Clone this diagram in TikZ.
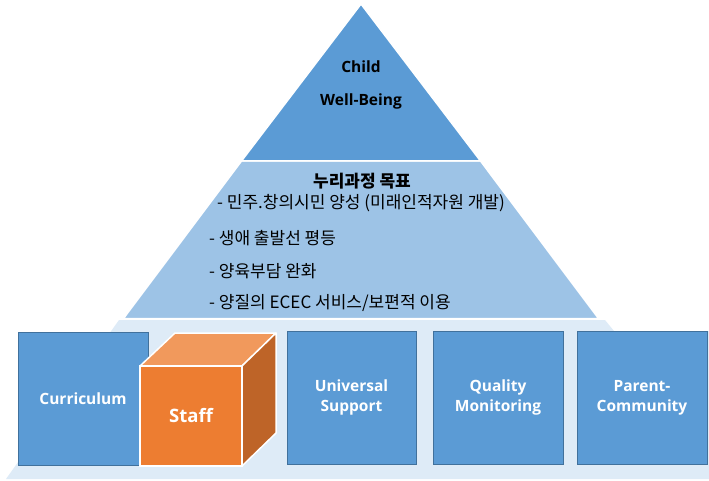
\documentclass[tikz,border=0pt]{standalone}
\usepackage{fontspec}
\setmainfont{Open Sans}
\newfontfamily\kr{Noto Sans CJK KR}
\definecolor{topblue}{HTML}{5B9BD5}
\definecolor{midblue}{HTML}{9DC3E6}
\definecolor{bandblue}{HTML}{DEEBF7}
\definecolor{boxblue}{HTML}{5B9BD5}
\definecolor{boxedge}{HTML}{41719C}
\definecolor{orfront}{HTML}{ED7D31}
\definecolor{ortop}{HTML}{F1995C}
\definecolor{orside}{HTML}{BE6428}
\tikzset{
  pillar/.style={draw=boxedge, line width=0.8pt, fill=boxblue, text=white,
    minimum width=129pt, minimum height=133pt, inner sep=0pt, outer sep=0pt,
    align=center, font=\fontsize{15.5}{20}\selectfont\bfseries},
  layer/.style={draw=white, line width=1.5pt, line join=round},
  cubeface/.style={draw=white, line width=1.5pt, line join=round},
  toptext/.style={font=\fontsize{15.5}{18}\selectfont\bfseries, text=black, inner sep=0pt},
  goal/.style={font=\kr\fontsize{17}{20}\selectfont, text=black, inner sep=0pt, anchor=west}
}
\begin{document}
\begin{tikzpicture}[x=1pt,y=-1pt]
\useasboundingbox (0,0) rectangle (709,481);
% bottom band
\fill[bandblue] (119,320) -- (605,320) -- (614,331) -- (709,331) -- (709,479) -- (6,479) -- cycle;
% middle layer
\filldraw[layer, fill=midblue] (241.5,161) -- (480.5,161) -- (598.5,318.5) -- (123.5,318.5) -- cycle;
% top triangle
\filldraw[layer, fill=topblue] (361,4) -- (480.5,161) -- (241.5,161) -- cycle;
\node[toptext] (child) at (361,67) {Child};
\node[toptext] (wb) at (361,101) {Well-Being};
% goals
\node[font=\kr\fontsize{17}{20}\selectfont\bfseries, inner sep=0pt] (gtitle) at (362,181) {누리과정 목표};
\node[goal] (g1) at (217,203) {- 민주.창의시민 양성 (미래인적자원 개발)};
\node[goal] (g2) at (209,238) {- 생애 출발선 평등};
\node[goal] (g3) at (209,271) {- 양육부담 완화};
\node[goal] (g4) at (209,303) {- 양질의 ECEC 서비스/보편적 이용};
% pillars
\node[pillar, minimum width=130pt] (curr) at (83,398.5) {Curriculum};
\node[pillar] (univ) at (351.5,397.5) {Universal\\Support};
\node[pillar, minimum width=130pt] (qual) at (498,397.5) {Quality\\Monitoring};
\node[pillar, minimum width=130pt] (parent) at (642,397.5) {Parent-\\Community};
% staff cube
\filldraw[cubeface, fill=ortop] (140,366) -- (175,333) -- (276,333) -- (242,366) -- cycle;
\filldraw[cubeface, fill=orside] (242,366) -- (276,333) -- (276,433) -- (242,466) -- cycle;
\node[draw=white, line width=1.5pt, fill=orfront, minimum width=102pt, minimum height=100pt,
  inner sep=0pt, outer sep=0pt, text=white, font=\fontsize{18.5}{20}\selectfont\bfseries] (staff) at (191,416) {Staff};
\end{tikzpicture}
\end{document}
